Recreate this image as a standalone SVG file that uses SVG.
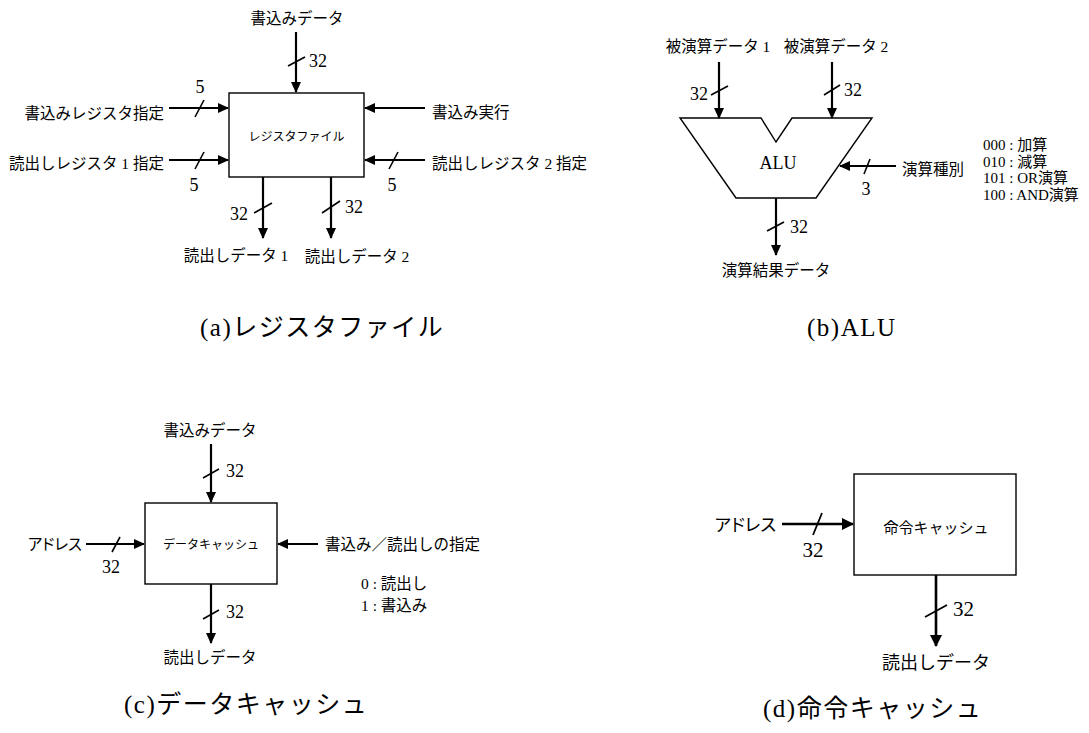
<svg xmlns="http://www.w3.org/2000/svg" width="1089" height="733" viewBox="0 0 1089 733">
<style>
text{font-family:'Liberation Serif','Noto Sans CJK JP',serif;fill:#000}
.l{font-size:15.5px}
.n{font-size:18px;font-family:'Liberation Serif',serif}
.s{font-size:12px}
.cap{font-size:25px;letter-spacing:1.5px}
.lg{font-size:15px}
.p{font-feature-settings:"palt"}
.w{stroke:#000;stroke-width:2.2;fill:none}
.t{stroke:#000;stroke-width:1.6;fill:none}
.b{stroke:#000;stroke-width:1.4;fill:#fff}
.m{text-anchor:middle}
.e{text-anchor:end}
</style>
<defs>
<marker id="ah" markerUnits="userSpaceOnUse" markerWidth="11" markerHeight="10" refX="10" refY="5" orient="auto">
<path d="M0,0 L11,5 L0,10 z" fill="#000"/>
</marker>
<marker id="ahd" markerUnits="userSpaceOnUse" markerWidth="12" markerHeight="12" refX="11" refY="6" orient="auto">
<path d="M0,0 L12,6 L0,12 z" fill="#000"/>
</marker>
</defs>

<g id="regfile">
<rect class="b" x="229" y="93" width="135" height="84"/>
<text class="s m" x="296.5" y="141">レジスタファイル</text>
<text class="l m" x="297" y="24">書込みデータ</text>
<text class="l e" x="164" y="119">書込みレジスタ指定</text>
<text class="l e" x="164" y="169">読出しレジスタ 1 指定</text>
<text class="l" x="432" y="118">書込み実行</text>
<text class="l" x="432" y="169">読出しレジスタ 2 指定</text>
<text class="l m" x="236" y="261">読出しデータ 1</text>
<text class="l m" x="357" y="262">読出しデータ 2</text>
<text class="n" x="309" y="67">32</text>
<text class="n m" x="200" y="93">5</text>
<text class="n m" x="194" y="191">5</text>
<text class="n m" x="392" y="191">5</text>
<text class="n e" x="248" y="220">32</text>
<text class="n" x="345" y="213">32</text>
<text class="cap" x="200" y="336">(a)レジスタファイル</text>
</g>

<g id="alu">
<polygon class="b" points="680,118 761,118 776,142 792,118 872,118 816,198 736,198"/>
<text class="m" x="778" y="169" style="font-size:18px">ALU</text>
<text class="l m" x="718" y="52">被演算データ 1</text>
<text class="l m" x="836" y="52">被演算データ 2</text>
<text class="n e" x="708" y="100">32</text>
<text class="n" x="844" y="96">32</text>
<text class="l" x="902" y="175">演算種別</text>
<text class="n m" x="866" y="195">3</text>
<text class="lg" x="983" y="150">000 : 加算</text>
<text class="lg" x="983" y="167">010 : 減算</text>
<text class="lg" x="983" y="183">101 : OR演算</text>
<text class="lg" x="983" y="200">100 : AND演算</text>
<text class="n" x="790" y="233">32</text>
<text class="l m" x="776" y="276">演算結果データ</text>
<text class="cap" x="807" y="336">(b)ALU</text>
</g>

<g id="dcache">
<rect class="b" x="145" y="503" width="132" height="81"/>
<text class="s m" x="211" y="549">データキャッシュ</text>
<text class="l m" x="210" y="436">書込みデータ</text>
<text class="n" x="226" y="477">32</text>
<text class="l e p" x="82" y="550">アドレス</text>
<text class="n m" x="111" y="573">32</text>
<text class="l" x="325" y="550">書込み／読出しの指定</text>
<text class="l" x="361" y="589">0 : 読出し</text>
<text class="l" x="361" y="611">1 : 書込み</text>
<text class="n" x="226" y="618">32</text>
<text class="l m" x="210" y="663">読出しデータ</text>
<text class="cap" x="124" y="713">(c)データキャッシュ</text>
</g>

<g id="icache">
<rect class="b" x="854" y="474" width="162" height="101"/>
<text class="m" x="936" y="533" style="font-size:15px">命令キャッシュ</text>
<text class="e p" x="776" y="531" style="font-size:17.5px">アドレス</text>
<text class="m" x="813" y="557" style="font-size:21px">32</text>
<text x="953" y="616" style="font-size:21px">32</text>
<text class="m" x="936" y="669" style="font-size:18px">読出しデータ</text>
<text class="cap" x="763" y="717">(d)命令キャッシュ</text>
</g>

<g id="connectors">
<line class="w" x1="296" y1="32" x2="296" y2="92" marker-end="url(#ah)"/>
<line class="w" x1="169" y1="108" x2="228" y2="108" marker-end="url(#ah)"/>
<line class="w" x1="169" y1="160" x2="228" y2="160" marker-end="url(#ah)"/>
<line class="w" x1="425" y1="108" x2="365" y2="108" marker-end="url(#ah)"/>
<line class="w" x1="425" y1="160" x2="365" y2="160" marker-end="url(#ah)"/>
<line class="w" x1="263" y1="177" x2="263" y2="238" marker-end="url(#ah)"/>
<line class="w" x1="331" y1="177" x2="331" y2="238" marker-end="url(#ah)"/>
<line class="t" x1="288" y1="66" x2="305" y2="57"/>
<line class="t" x1="195" y1="117" x2="204" y2="100"/>
<line class="t" x1="195" y1="169" x2="204" y2="152"/>
<line class="t" x1="389" y1="169" x2="398" y2="152"/>
<line class="t" x1="254" y1="213" x2="272" y2="203"/>
<line class="t" x1="322" y1="213" x2="340" y2="201"/>

<line class="w" x1="719" y1="62" x2="719" y2="118" marker-end="url(#ah)"/>
<line class="w" x1="832" y1="62" x2="832" y2="118" marker-end="url(#ah)"/>
<line class="w" x1="896" y1="166" x2="840" y2="166" marker-end="url(#ah)"/>
<line class="w" x1="776" y1="198" x2="776" y2="255" marker-end="url(#ah)"/>
<line class="t" x1="711" y1="95" x2="728" y2="86"/>
<line class="t" x1="824" y1="95" x2="840" y2="85"/>
<line class="t" x1="864" y1="174" x2="870" y2="159"/>
<line class="t" x1="767" y1="231" x2="784" y2="222"/>

<line class="w" x1="211" y1="444" x2="211" y2="502" marker-end="url(#ah)"/>
<line class="w" x1="86" y1="544" x2="144" y2="544" marker-end="url(#ah)"/>
<line class="w" x1="318" y1="544" x2="278" y2="544" marker-end="url(#ah)"/>
<line class="w" x1="211" y1="584" x2="211" y2="643" marker-end="url(#ah)"/>
<line class="t" x1="203" y1="478" x2="219" y2="469"/>
<line class="t" x1="112" y1="552" x2="120" y2="537"/>
<line class="t" x1="203" y1="619" x2="219" y2="610"/>

<line class="w" style="stroke-width:2.6" x1="782" y1="524" x2="853" y2="524" marker-end="url(#ahd)"/>
<line class="w" style="stroke-width:2.6" x1="936" y1="575" x2="936" y2="646" marker-end="url(#ahd)"/>
<line class="t" style="stroke-width:1.8" x1="813" y1="535" x2="822" y2="513"/>
<line class="t" style="stroke-width:1.8" x1="925" y1="617" x2="947" y2="605"/>
</g>
</svg>
